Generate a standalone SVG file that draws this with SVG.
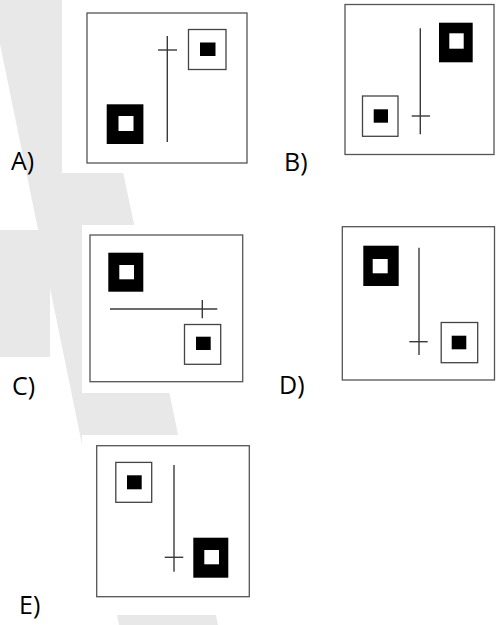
<svg xmlns="http://www.w3.org/2000/svg" width="496" height="625" viewBox="0 0 496 625">
  <style>
    .wm { fill: #e8e8e8; }
    .bg { fill: #ffffff; }
    .frame { fill: #ffffff; stroke: #555555; stroke-width: 1.3; }
    .ln { stroke: #3a3a3a; stroke-width: 1.4; fill: none; }
    .box { fill: #ffffff; stroke: #444444; stroke-width: 1.3; }
    .blk { fill: #000000; }
    .wht { fill: #ffffff; }
    .lbl { font-family: "Open Sans", "Liberation Sans", sans-serif; font-size: 25px; fill: #000000; }
  </style>
  <rect width="496" height="625" fill="#ffffff"/>
  <g id="watermark">
    <polygon class="wm" points="-9,0 87,0 218,625 119,625"/>
    <rect class="wm" x="0" y="230" width="50" height="127"/>
    <rect class="bg" x="62" y="0" width="200" height="173"/>
    <rect class="bg" x="82" y="225" width="175" height="168"/>
    <rect class="bg" x="82" y="435" width="180" height="180"/>
  </g>

  <g id="panelA">
    <rect class="frame" x="87" y="13" width="160" height="150"/>
    <line class="ln" x1="167.3" y1="36" x2="167.3" y2="142"/>
    <line class="ln" x1="158" y1="50" x2="177" y2="50"/>
    <rect class="box" x="188.5" y="29.5" width="37.5" height="40"/>
    <rect class="blk" x="200" y="42.5" width="15.5" height="13.5"/>
    <rect class="blk" x="106.7" y="104.3" width="36.7" height="39.7"/>
    <rect class="wht" x="118.5" y="116" width="15" height="15"/>
    <text class="lbl" x="11" y="170">A)</text>
  </g>

  <g id="panelB">
    <rect class="frame" x="345" y="4.5" width="149" height="150"/>
    <line class="ln" x1="420.3" y1="28.3" x2="420.3" y2="134.3"/>
    <line class="ln" x1="411.7" y1="116" x2="430" y2="116"/>
    <rect class="blk" x="439" y="22.7" width="33.7" height="39.6"/>
    <rect class="wht" x="449.3" y="33.3" width="14.4" height="15.4"/>
    <rect class="box" x="362.5" y="96" width="35.5" height="40.3"/>
    <rect class="blk" x="373.7" y="109.3" width="14.3" height="13.4"/>
    <text class="lbl" x="284" y="170.5">B)</text>
  </g>

  <g id="panelC">
    <rect class="frame" x="90" y="235" width="152.7" height="146.7"/>
    <line class="ln" x1="110" y1="309" x2="217.3" y2="309"/>
    <line class="ln" x1="202.3" y1="300" x2="202.3" y2="318.3"/>
    <rect class="blk" x="108.3" y="252.7" width="35" height="39"/>
    <rect class="wht" x="119.3" y="265" width="14.7" height="14.3"/>
    <rect class="box" x="184.5" y="324.5" width="36.2" height="39.8"/>
    <rect class="blk" x="196" y="336.7" width="14.7" height="13.3"/>
    <text class="lbl" x="12" y="395">C)</text>
  </g>

  <g id="panelD">
    <rect class="frame" x="342.3" y="226.7" width="152.2" height="153.3"/>
    <line class="ln" x1="419" y1="247.7" x2="419" y2="355"/>
    <line class="ln" x1="409.3" y1="341.7" x2="427.7" y2="341.7"/>
    <rect class="blk" x="363.3" y="245.7" width="35.4" height="40.3"/>
    <rect class="wht" x="372.7" y="259" width="15" height="14.3"/>
    <rect class="box" x="441.2" y="322.5" width="36.5" height="40.2"/>
    <rect class="blk" x="451.7" y="335.7" width="14.6" height="13.6"/>
    <text class="lbl" x="279" y="394">D)</text>
  </g>

  <g id="panelE">
    <rect class="frame" x="96.7" y="445.7" width="152.6" height="151"/>
    <line class="ln" x1="174" y1="465" x2="174" y2="571.7"/>
    <line class="ln" x1="164.7" y1="557.3" x2="183.3" y2="557.3"/>
    <rect class="box" x="115.8" y="462.4" width="35.9" height="39.9"/>
    <rect class="blk" x="127" y="475.3" width="14.7" height="14"/>
    <rect class="blk" x="193.3" y="537.7" width="35" height="40"/>
    <rect class="wht" x="204.3" y="550" width="14.7" height="14.3"/>
    <text class="lbl" x="19" y="614">E)</text>
  </g>
</svg>
